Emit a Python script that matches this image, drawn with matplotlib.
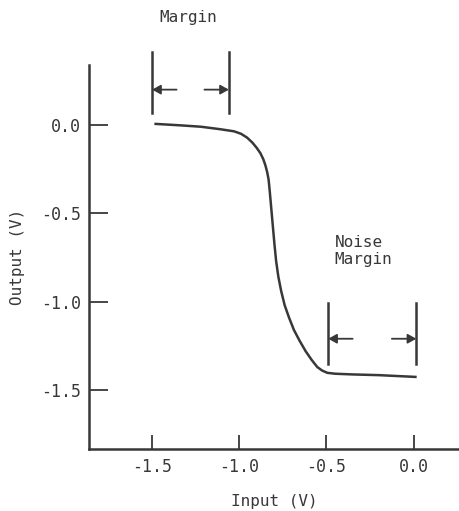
import matplotlib
matplotlib.use("Agg")
import matplotlib.pyplot as plt

# Transfer characteristic of the gate
input_v = [-1.48, -1.34, -1.22, -1.11, -1.03, -0.99, -0.955, -0.925, -0.90,
           -0.879, -0.862, -0.850, -0.840, -0.832, -0.826, -0.817, -0.808, -0.799,
           -0.789, -0.776, -0.760, -0.740, -0.715, -0.687, -0.655, -0.620,
           -0.585, -0.553, -0.525, -0.495, -0.45, -0.35, -0.20, 0.01]
output_v = [0.006, -0.002, -0.010, -0.024, -0.036, -0.050, -0.072, -0.100, -0.130,
            -0.160, -0.195, -0.230, -0.268, -0.310, -0.37, -0.47, -0.57, -0.67,
            -0.77, -0.86, -0.94, -1.02, -1.09, -1.16, -1.22, -1.28,
            -1.33, -1.37, -1.39, -1.403, -1.408, -1.412, -1.416, -1.426]

x_ticks = [-1.5, -1.0, -0.5, 0.0]
y_ticks = [0.0, -0.5, -1.0, -1.5]
x_tick_labels = ["-1.5", "-1.0", "-0.5", "0.0"]
y_tick_labels = ["0.0", "-0.5", "-1.0", "-1.5"]

# Margin brackets: (left edge, right edge, bracket bottom, bracket top, arrow level, arrow length)
upper_margin = (-1.50, -1.06, 0.068, 0.415, 0.20, 0.14)
noise_margin = (-0.49, 0.015, -1.352, -1.006, -1.21, 0.14)

ink = "#383838"
mono = "DejaVu Sans Mono"

fig = plt.figure(figsize=(4.59, 5.11), dpi=100)
ax = fig.add_axes([0.194, 0.121, 0.806, 0.752])
ax.set_xlim(-1.862, 0.26)
ax.set_ylim(-1.835, 0.34)

ax.plot(input_v, output_v, color=ink, lw=1.8, solid_joinstyle="round")

for side in ("top", "right"):
    ax.spines[side].set_visible(False)
for side in ("left", "bottom"):
    ax.spines[side].set_color(ink)
    ax.spines[side].set_linewidth(1.8)

ax.set_xticks(x_ticks)
ax.set_xticklabels(x_tick_labels, fontfamily=mono, fontsize=12, color=ink)
ax.set_yticks(y_ticks)
ax.set_yticklabels(y_tick_labels, fontfamily=mono, fontsize=12, color=ink)
ax.tick_params(axis="x", direction="in", length=10, width=1.3, color=ink, pad=6)
ax.tick_params(axis="y", direction="in", length=14, width=1.3, color=ink, pad=6)

ax.set_xlabel("Input (V)", fontfamily=mono, fontsize=11.5, color=ink, labelpad=13)
ax.set_ylabel("Output (V)", fontfamily=mono, fontsize=11.5, color=ink, labelpad=11)


def bracket(spec):
    left, right, bottom, top, level, length = spec
    for xv in (left, right):
        ax.plot([xv, xv], [bottom, top], color=ink, lw=1.8, clip_on=False)
    arrow = dict(arrowstyle="-|>,head_length=0.5,head_width=0.28", color=ink,
                 lw=1.3, shrinkA=0, shrinkB=0)
    ax.annotate("", xy=(left, level), xytext=(left + length, level),
                arrowprops=arrow, annotation_clip=False)
    ax.annotate("", xy=(right, level), xytext=(right - length, level),
                arrowprops=arrow, annotation_clip=False)


bracket(upper_margin)
bracket(noise_margin)

ax.text(-1.293, 0.61, "Margin", fontfamily=mono, fontsize=11.5, color=ink,
        ha="center", va="center", clip_on=False)
ax.text(-0.452, -0.715, "Noise\nMargin", fontfamily=mono, fontsize=11.5,
        color=ink, ha="left", va="center", linespacing=1.2)

fig.savefig("out.png", dpi=100)
